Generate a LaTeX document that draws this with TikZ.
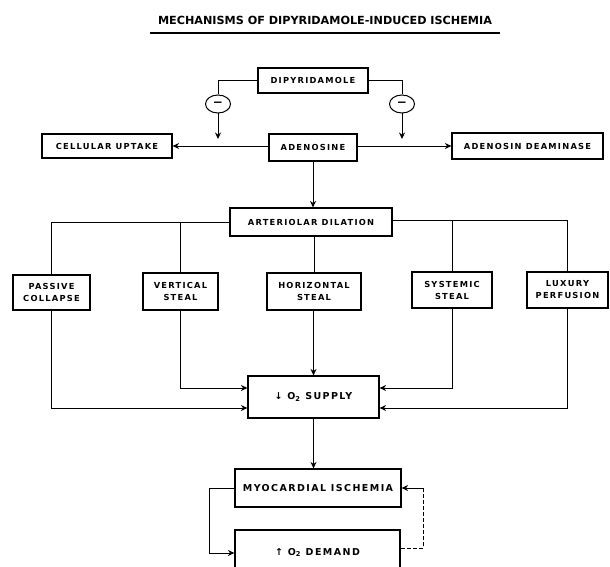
\documentclass[tikz,border=0pt]{standalone}
\usepackage{fontspec}
\setmainfont{DejaVu Sans}
\newfontfamily\boxfont[LetterSpace=15]{DejaVu Sans}
\usetikzlibrary{arrows.meta,positioning,shapes.geometric}
\tikzset{
  bx/.style={draw, line width=1.2pt, inner sep=1pt, align=center, font=\boxfont\bfseries\fontsize{8.3}{10}\selectfont},
  bigbx/.style={bx, font=\boxfont\bfseries\fontsize{9.5}{11}\selectfont},
  ln/.style={line width=1pt},
  arr/.style={ln, -{Stealth[length=6.5pt,width=6pt]}},
  inh/.style={draw, line width=1pt, ellipse, minimum width=25pt, minimum height=18pt, inner sep=0pt, font=\bfseries\large}
}
\begin{document}
\begin{tikzpicture}[x=1pt,y=-1pt]
\useasboundingbox (0,0) rectangle (610,567);
% title
\node[font=\bfseries\fontsize{11.2}{13}\selectfont] (title) at (325,20) {MECHANISMS OF DIPYRIDAMOLE-INDUCED ISCHEMIA};
\coordinate (ul1) at (150,33);
\coordinate (ul2) at (500,33);
\draw[line width=1.3pt] (ul1) -- (ul2);
% boxes
\node[bx, minimum width=110pt, minimum height=25pt] (dip) at (313,80.5) {DIPYRIDAMOLE};
\node[bx, minimum width=88pt, minimum height=27pt] (aden) at (313,147.5) {ADENOSINE};
\node[bx, minimum width=130pt, minimum height=24pt] (cell) at (107,146) {CELLULAR UPTAKE};
\node[bx, minimum width=151pt, minimum height=26pt] (deam) at (527.5,146) {ADENOSIN DEAMINASE};
\node[bx, minimum width=162pt, minimum height=28pt] (art) at (311,222) {ARTERIOLAR DILATION};
\node[bx, minimum width=77pt, minimum height=35pt] (pass) at (51.5,292.5) {PASSIVE\\[2pt]COLLAPSE};
\node[bx, minimum width=75pt, minimum height=37pt] (vert) at (180.5,291.5) {VERTICAL\\[2pt]STEAL};
\node[bx, minimum width=94pt, minimum height=37pt] (horiz) at (314,291.5) {HORIZONTAL\\[2pt]STEAL};
\node[bx, minimum width=80pt, minimum height=36pt] (syst) at (452,290) {SYSTEMIC\\[2pt]STEAL};
\node[bx, minimum width=81pt, minimum height=36pt] (lux) at (567.5,290) {LUXURY\\[2pt]PERFUSION};
\node[bigbx, minimum width=131pt, minimum height=42pt] (supply) at (313.5,397) {↓ O\textsubscript{2} SUPPLY};
\node[bigbx, minimum width=166pt, minimum height=38pt] (myo) at (318,488) {MYOCARDIAL ISCHEMIA};
\node[bigbx, minimum width=165pt, minimum height=45pt] (demand) at (317.5,552.5) {↑ O\textsubscript{2} DEMAND};
% inhibition circles
\node[inh] (c1) at (218,104) {−};
\node[inh] (c2) at (402,104) {−};
\draw[ln] (dip.west) -| (c1.north);
\draw[ln] (dip.east) -| (c2.north);
\coordinate (t1) at (218,139);
\coordinate (t2) at (402,139);
\draw[arr] (c1.south) -- (t1);
\draw[arr] (c2.south) -- (t2);
% adenosine outputs
\draw[arr] (aden.west |- cell.east) -- (cell.east);
\draw[arr] (aden.east |- deam.west) -- (deam.west);
\draw[arr] (aden.south) -- (aden.south |- art.north);
% arteriolar branches
\draw[ln] (art.west) -| (pass.north);
\draw[ln] (vert.north) -- (vert.north |- art.west);
\draw[ln] (art.south) -- (art.south -| horiz.north) -- (horiz.north);
\coordinate (ar) at ([yshift=2pt]art.east);
\draw[ln] (ar) -| (lux.north);
\draw[ln] (syst.north) -- (syst.north |- ar);
% to supply
\coordinate (sl1) at ([yshift=9pt]supply.west);
\coordinate (sl2) at ([yshift=-11pt]supply.west);
\coordinate (sr1) at ([yshift=9pt]supply.east);
\coordinate (sr2) at ([yshift=-11pt]supply.east);
\draw[arr] (vert.south) |- (sl1);
\draw[arr] (pass.south) |- (sl2);
\draw[arr] (syst.south) |- (sr1);
\draw[arr] (lux.south) |- (sr2);
\draw[arr] (horiz.south -| supply.north) -- (supply.north);
% to ischemia
\draw[arr] (supply.south) -- (supply.south |- myo.north);
\coordinate (dl) at (demand.west |- 0,553);
\draw[arr] (myo.west) -- ++(-25,0) |- (dl);
\coordinate (dr) at (demand.east |- 0,548);
\coordinate (fb) at (423,488);
\draw[ln, dash pattern=on 4pt off 2pt] (dr) -| (fb);
\draw[arr] (fb) -- (myo.east);
\end{tikzpicture}
\end{document}
